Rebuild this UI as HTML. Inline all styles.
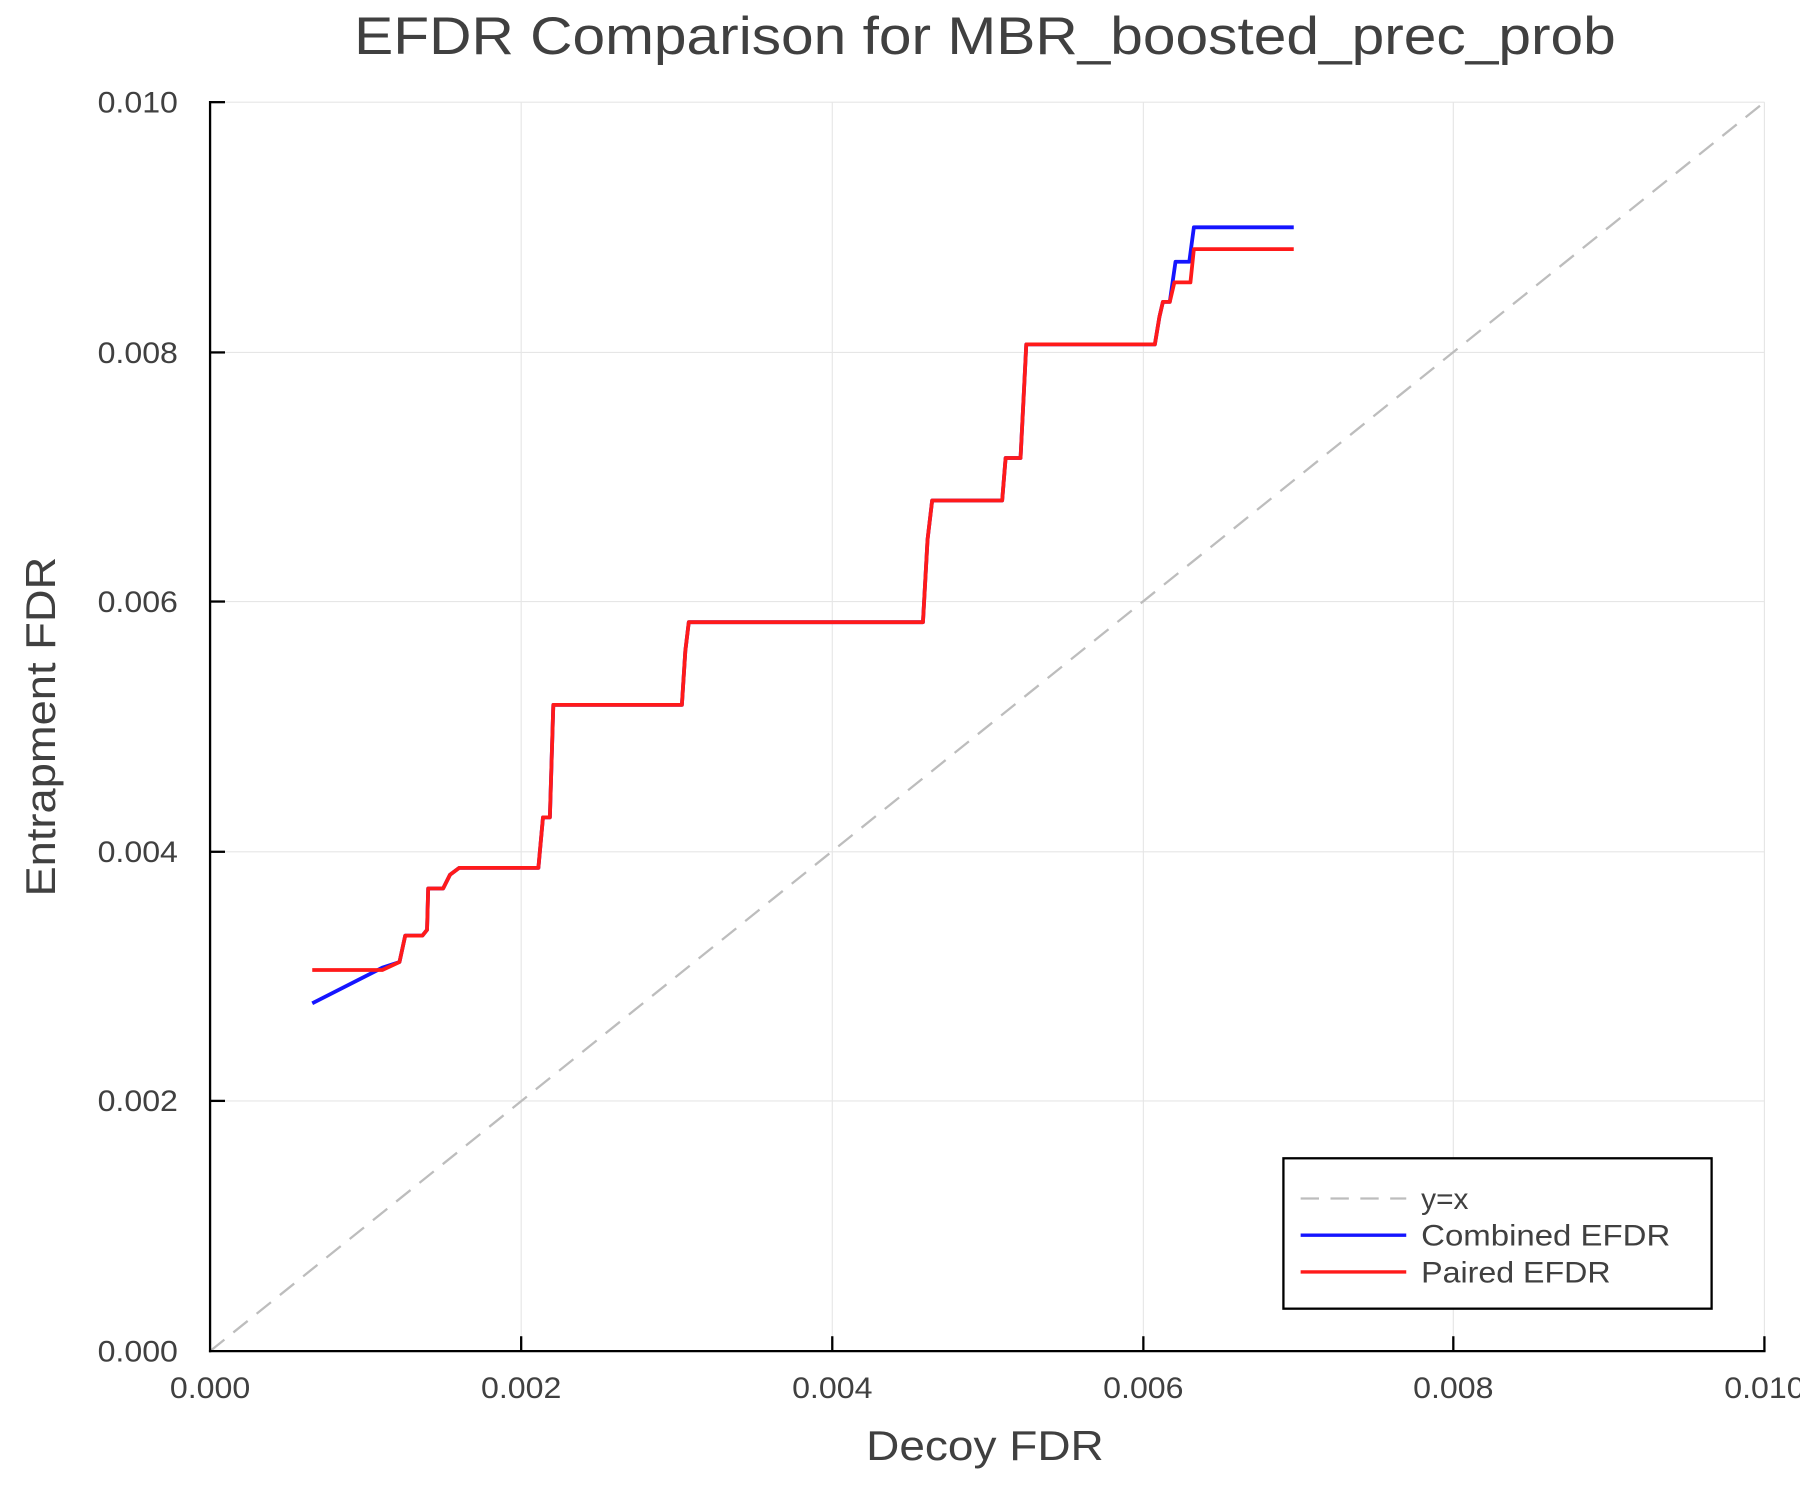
<!DOCTYPE html>
<html><head><meta charset="utf-8"><style>html,body{margin:0;padding:0;background:#fff}svg{display:block}</style></head>
<body>
<svg width="1800" height="1500" viewBox="0 0 1568 1306.67" xmlns="http://www.w3.org/2000/svg" font-family="Liberation Sans, sans-serif" fill="#404040">
<rect width="1568" height="1306.67" fill="#fff"/>
<g stroke="#e6e6e6" stroke-width="1">
<line x1="454" y1="89" x2="454" y2="1177"/><line x1="725" y1="89" x2="725" y2="1177"/><line x1="996" y1="89" x2="996" y2="1177"/><line x1="1266" y1="89" x2="1266" y2="1177"/><line x1="1537" y1="89" x2="1537" y2="1177"/>
<line x1="183" y1="959" x2="1537" y2="959"/><line x1="183" y1="742" x2="1537" y2="742"/><line x1="183" y1="524" x2="1537" y2="524"/><line x1="183" y1="307" x2="1537" y2="307"/><line x1="183" y1="89" x2="1537" y2="89"/>
</g>
<line x1="183" y1="1177" x2="1537" y2="89" stroke="#bdbdbd" stroke-width="2" stroke-dasharray="16,10"/>
<polyline fill="none" stroke="#1515ff" stroke-width="3.3" stroke-linejoin="round" points="272,874 333,843 348,838 353,815 368,815 372,810 373,774 386,774 392,762 400,756 469,756 473,712 479,712 482,614 594,614 597,567 600,542 804,542 808,470 812,436 873,436 876,399 889,399 892,340 894,300 1006,300 1010,276 1013,263 1019,263 1024,228 1036,228 1040,198 1127,198"/>
<polyline fill="none" stroke="#ff1a1a" stroke-width="3.3" stroke-linejoin="round" points="272,845 333,845 348,838 353,815 368,815 372,810 373,774 386,774 392,762 400,756 469,756 473,712 479,712 482,614 594,614 597,567 600,542 804,542 808,470 812,436 873,436 876,399 889,399 892,340 894,300 1006,300 1010,276 1013,263 1019,263 1023,246 1037,246 1040,217 1127,217"/>
<g stroke="#000" stroke-width="2">
<line x1="183" y1="88" x2="183" y2="1178"/><line x1="182" y1="1177" x2="1538" y2="1177"/>
<line x1="454" y1="1177" x2="454" y2="1164"/><line x1="725" y1="1177" x2="725" y2="1164"/><line x1="996" y1="1177" x2="996" y2="1164"/><line x1="1266" y1="1177" x2="1266" y2="1164"/><line x1="1537" y1="1177" x2="1537" y2="1164"/>
<line x1="183" y1="959" x2="196" y2="959"/><line x1="183" y1="742" x2="196" y2="742"/><line x1="183" y1="524" x2="196" y2="524"/><line x1="183" y1="307" x2="196" y2="307"/><line x1="183" y1="89" x2="196" y2="89"/>
</g>
<g font-size="26" text-anchor="middle">
<text x="183" y="1218" textLength="70" lengthAdjust="spacingAndGlyphs">0.000</text><text x="454" y="1218" textLength="70" lengthAdjust="spacingAndGlyphs">0.002</text><text x="725" y="1218" textLength="70" lengthAdjust="spacingAndGlyphs">0.004</text><text x="996" y="1218" textLength="70" lengthAdjust="spacingAndGlyphs">0.006</text><text x="1266" y="1218" textLength="70" lengthAdjust="spacingAndGlyphs">0.008</text><text x="1537" y="1218" textLength="70" lengthAdjust="spacingAndGlyphs">0.010</text>
</g>
<g font-size="26" text-anchor="end">
<text x="155" y="1186" textLength="70" lengthAdjust="spacingAndGlyphs">0.000</text><text x="155" y="968" textLength="70" lengthAdjust="spacingAndGlyphs">0.002</text><text x="155" y="751" textLength="70" lengthAdjust="spacingAndGlyphs">0.004</text><text x="155" y="533" textLength="70" lengthAdjust="spacingAndGlyphs">0.006</text><text x="155" y="316" textLength="70" lengthAdjust="spacingAndGlyphs">0.008</text><text x="155" y="98" textLength="70" lengthAdjust="spacingAndGlyphs">0.010</text>
</g>
<text x="858" y="47" font-size="46" text-anchor="middle" textLength="1099" lengthAdjust="spacingAndGlyphs">EFDR Comparison for MBR_boosted_prec_prob</text>
<text x="858" y="1272" font-size="36" text-anchor="middle" textLength="207" lengthAdjust="spacingAndGlyphs">Decoy FDR</text>
<text transform="translate(48,633) rotate(-90)" font-size="36" text-anchor="middle" textLength="296" lengthAdjust="spacingAndGlyphs">Entrapment FDR</text>
<rect x="1118" y="1009" width="373" height="131" fill="#fff" stroke="#000" stroke-width="2"/>
<line x1="1133" y1="1044" x2="1225" y2="1044" stroke="#bdbdbd" stroke-width="2" stroke-dasharray="16,10"/>
<line x1="1133" y1="1076" x2="1225" y2="1076" stroke="#1515ff" stroke-width="3"/>
<line x1="1133" y1="1108" x2="1225" y2="1108" stroke="#ff1a1a" stroke-width="3"/>
<g font-size="26">
<text x="1238" y="1053">y=x</text><text x="1238" y="1085" textLength="217" lengthAdjust="spacingAndGlyphs">Combined EFDR</text><text x="1238" y="1117" textLength="165" lengthAdjust="spacingAndGlyphs">Paired EFDR</text>
</g>
</svg>
</body></html>
